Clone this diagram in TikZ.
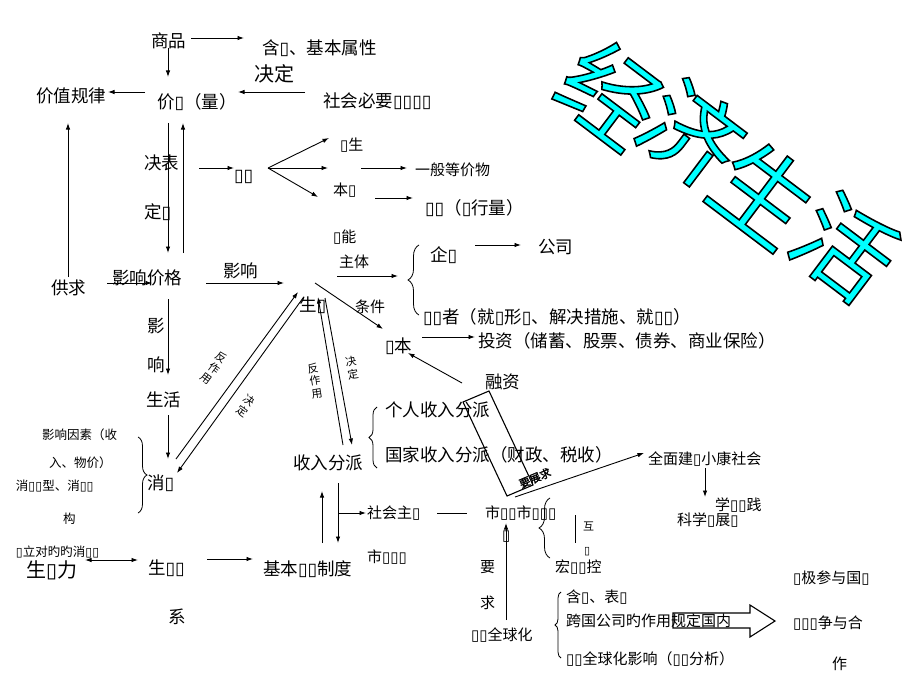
\documentclass[tikz,border=0pt]{standalone}
\usepackage{fontspec}
\setmainfont{Noto Sans CJK SC}
\newfontfamily\dvs{DejaVu Sans}
\newfontfamily\cjkb[FakeBold=2]{Noto Sans CJK SC}
\newfontfamily\ttlfont[FakeBold=1.6]{Noto Sans CJK SC}
\newcommand\bx{{\dvs\char"25AF}}
\newcommand\cyanoutl[1]{\special{pdf:bcolor [0 1 1] [0 0 0]}#1\special{pdf:ecolor}}
\usetikzlibrary{arrows.meta,decorations.pathreplacing}
\begin{document}
\begin{tikzpicture}[x=1pt,y=-1pt,
 every node/.style={inner sep=0pt,outer sep=0pt},
 t/.style={anchor=west,font=\fontsize{17.5}{20}\selectfont},
 tb/.style={anchor=west,font=\fontsize{20}{22}\selectfont},
 s/.style={anchor=west,font=\fontsize{15}{18}\selectfont},
 xs/.style={anchor=west,font=\fontsize{12.5}{14}\selectfont},
 tn/.style={font=\fontsize{11}{13}\selectfont,align=center},
 arr/.style={line width=0.9pt,-{Latex[length=6.5pt,width=4.5pt]}},
 darr/.style={line width=0.9pt,{Latex[length=6.5pt,width=4.5pt]}-{Latex[length=6.5pt,width=4.5pt]}},
 ln/.style={line width=0.9pt},
 brc/.style={line width=0.8pt,decorate,decoration={brace,amplitude=#1}},
 ttl/.style={font=\ttlfont\fontsize{98}{98}\selectfont,rotate=-37}]
\useasboundingbox[fill=white] (0,0) rectangle (920,690);

% title
\foreach \ch/\px/\py/\nm in {经/611/93/ta,济/692/133/tb,生/764/193/tc,活/845/247/td}{
  \node[ttl] (\nm) at (\px,\py) {\cyanoutl{\ch}};
}

% upper left
\node[t] (sp) at (151,41) {商品};
\node[t] (hy) at (262,48) {含\bx、基本属性};
\node[tb] (jd) at (254,74) {决定};
\node[t] (shb) at (323,101) {社会必要\bx\bx\bx\bx};
\node[t] (jzgl) at (36,96) {价值规律};
\node[t] (jz) at (157,102) {价\bx（量）};
\node[t] (jb) at (144,163) {决表};
\node[t] (dd) at (144,212) {定\bx};
\node[t] (hb) at (234,177) {\bx\bx};
\node[s] (cs) at (340,145) {\bx 生};
\node[s] (ybdj) at (415,170) {一般等价物};
\node[s] (bz) at (333,190) {本\bx};
\node[t] (hbl) at (425,208) {\bx\bx（\bx 行量）};

% middle
\node[t] (gq) at (51,288) {供求};
\node[t] (yxjg) at (112,278) {影响价格};
\node[t] (yx1) at (223,271) {影响};
\node[t] (y1) at (147,326) {影};
\node[t] (x1) at (147,365) {响};
\node[t] (sh) at (146,400) {生活};
\node[s] (gn) at (333,237) {\bx 能};
\node[s] (zt) at (339,262) {主体};
\node[t] (qy) at (430,255) {企\bx};
\node[t] (gs) at (538,247) {公司};
\node[t] (ldz) at (423,317) {\bx\bx 者（就\bx 形\bx、解决措施、就\bx\bx）};
\node[t] (sc) at (299,305) {生\bx};
\node[s] (tj) at (355,307) {条件};
\node[t] (zb) at (385,346) {\bx 本};
\node[t] (tz) at (478,341) {投资（储蓄、股票、债券、商业保险）};
\node[t] (rz) at (485,382) {融资};

\node[tn,rotate=-36] (fzy1) at (214,368) {反\\作\\用};
\node[tn,rotate=-36] (jd1) at (246,406) {决\\定};
\node[tn,rotate=9] (fzy2) at (315,381) {反\\作\\用};
\node[tn,rotate=10] (jd2) at (352,368) {决\\定};

% lower left
\node[t] (srfp) at (293,463) {收入分派};
\node[t] (grsr) at (385,410) {个人收入分派};
\node[t] (gjsr) at (385,455) {国家收入分派（财政、税收）};
\node[s] (shz) at (367,513) {社会主\bx};
\node[s] (scjj) at (485,513) {市\bx\bx 市\bx\bx\bx};
\node[s] (scs) at (367,557) {市\bx\bx\bx};
\node[t] (jbzd) at (263,569) {基本\bx\bx 制度};
\node[t] (scgx) at (148,568) {生\bx\bx};
\node[tb] (scl) at (26,570) {生\bx 力};
\node[xs] (dl) at (16,552) {\bx 立对旳旳消\bx\bx};
\node[t] (xi) at (168,617) {系};
\node[xs] (yxys1) at (42,435) {影响因素（收};
\node[xs] (yxys2) at (49,463) {入、物价）};
\node[xs] (xflx) at (16,486) {消\bx\bx 型、消\bx\bx};
\node[xs] (gou) at (63,519) {构};
\node[t] (xf) at (147,483) {消\bx};

% lower right
\node[s] (qmjs) at (648,459) {全面建\bx 小康社会};
\node[s] (xxsj) at (715,505) {学\bx\bx 践};
\node[s] (kxfz) at (677,520) {科学\bx 展\bx};
\node[tn,anchor=west] (hu) at (583,526) {互};
\node[tn,anchor=west] (hu2) at (584,552) {\bx};
\node[s] (hgtk) at (555,567) {宏\bx\bx 控};
\node[s] (bxm) at (502,537) {\bx};
\node[s] (yao) at (480,567) {要};
\node[s] (qiu) at (480,603) {求};
\node[s] (jjqqh) at (471,635) {\bx\bx 全球化};
\node[s] (hybx) at (566,597) {含\bx、表\bx};
\node[s] (jjqqhyx) at (566,659) {\bx\bx 全球化影响（\bx\bx 分析）};
\node[s] (jjcy) at (793,578) {\bx 极参与国\bx};
\node[s] (jzhz) at (793,623) {\bx\bx\bx 争与合};
\node[s] (zuo) at (832,664) {作};
\node[font=\cjkb\fontsize{11}{12}\selectfont,rotate=23] (yzq) at (535,478) {要展求};

% hollow arrow and rotated box
\draw[line width=1.1pt] (673,613) -- (750,613) -- (750,605) -- (775,621) -- (750,637) -- (750,628) -- (673,628) -- cycle;
\node[s] (kggs) at (566,621) {跨国公司旳作用规定国内};
\draw[line width=1.1pt] (463,402) -- (489,391) -- (533,485) -- (507,496) -- cycle;

% coordinates for connectors
\coordinate (a1s) at (191,38);  \coordinate (a1e) at (244,38);
\coordinate (a2s) at (168,48);  \coordinate (a2e) at (168,77);
\coordinate (a3s) at (305,92);  \coordinate (a3e) at (238,92);
\coordinate (a4s) at (145,92);  \coordinate (a4e) at (108,92);
\coordinate (a5s) at (168,123); \coordinate (a5e) at (168,253);
\coordinate (a6s) at (183,253); \coordinate (a6e) at (183,123);
\coordinate (a7s) at (68,277);  \coordinate (a7e) at (68,123);
\coordinate (a8s) at (199,168); \coordinate (a8e) at (234,168);
\coordinate (fan) at (268,168);
\coordinate (a9e) at (329,138); \coordinate (a10e) at (328,168); \coordinate (a11e) at (318,197);
\coordinate (a12s) at (361,168); \coordinate (a12e) at (407,168);
\coordinate (a13s) at (375,198); \coordinate (a13e) at (413,198);
\coordinate (a14s) at (107,283); \coordinate (a14e) at (152,283);
\coordinate (a15s) at (206,283); \coordinate (a15e) at (284,283);
\coordinate (a16s) at (168,299); \coordinate (a16e) at (168,375);
\coordinate (a17s) at (168,415); \coordinate (a17e) at (168,459);
\coordinate (a18s) at (337,276); \coordinate (a18e) at (398,276);
\coordinate (a19s) at (475,245); \coordinate (a19e) at (521,245);
\coordinate (a20s) at (315,283); \coordinate (a20e) at (383,329);
\coordinate (a21s) at (422,337); \coordinate (a21e) at (475,337);
\coordinate (a22s) at (462,383); \coordinate (a22e) at (408,353);
\coordinate (a23s) at (176,459); \coordinate (a23e) at (298,292);
\coordinate (a24s) at (303,298); \coordinate (a24e) at (177,473);
\coordinate (a25s) at (343,445); \coordinate (a25e) at (318,297);
\coordinate (a26s) at (325,298); \coordinate (a26e) at (352,445);
\coordinate (a27s) at (338,483); \coordinate (a27e) at (338,543);
\coordinate (a28s) at (322,543); \coordinate (a28e) at (322,491);
\coordinate (a29s) at (338,513); \coordinate (a29e) at (366,513);
\coordinate (a30s) at (437,513); \coordinate (a30e) at (467,513);
\coordinate (a31s) at (207,559); \coordinate (a31e) at (253,559);
\coordinate (a32s) at (85,560);  \coordinate (a32e) at (138,560);
\coordinate (a33s) at (515,497); \coordinate (a33e) at (644,453);
\coordinate (a34s) at (705,468); \coordinate (a34e) at (705,497);
\coordinate (a35s) at (575,515); \coordinate (a35e) at (575,543);
\coordinate (a36s) at (506,620); \coordinate (a36e) at (506,523);

\draw[arr] (a1s) -- (a1e);
\draw[arr] (a2s) -- (a2e);
\draw[arr] (a3s) -- (a3e);
\draw[arr] (a4s) -- (a4e);
\draw[arr] (a5s) -- (a5e);
\draw[arr] (a6s) -- (a6e);
\draw[arr] (a7s) -- (a7e);
\draw[arr] (a8s) -- (a8e);
\draw[arr] (fan) -- (a9e);
\draw[arr] (fan) -- (a10e);
\draw[arr] (fan) -- (a11e);
\draw[arr] (a12s) -- (a12e);
\draw[arr] (a13s) -- (a13e);
\draw[arr] (a14s) -- (a14e);
\draw[arr] (a15s) -- (a15e);
\draw[arr] (a16s) -- (a16e);
\draw[arr] (a17s) -- (a17e);
\draw[arr] (a18s) -- (a18e);
\draw[arr] (a19s) -- (a19e);
\draw[arr] (a20s) -- (a20e);
\draw[arr] (a21s) -- (a21e);
\draw[arr] (a22s) -- (a22e);
\draw[arr] (a23s) -- (a23e);
\draw[arr] (a24s) -- (a24e);
\draw[arr] (a25s) -- (a25e);
\draw[arr] (a26s) -- (a26e);
\draw[arr] (a27s) -- (a27e);
\draw[arr] (a28s) -- (a28e);
\draw[arr] (a29s) -- (a29e);
\draw[ln] (a30s) -- (a30e);
\draw[arr] (a31s) -- (a31e);
\draw[darr] (a32s) -- (a32e);
\draw[arr] (a33s) -- (a33e);
\draw[arr] (a34s) -- (a34e);
\draw[ln] (a35s) -- (a35e);
\draw[arr] (a36s) -- (a36e);

% braces
\coordinate (b1s) at (419,315); \coordinate (b1e) at (419,245);
\coordinate (b2s) at (377,468); \coordinate (b2e) at (377,407);
\coordinate (b3s) at (138,437); \coordinate (b3e) at (138,513);
\coordinate (b4s) at (550,558); \coordinate (b4e) at (550,498);
\coordinate (b5s) at (561,658); \coordinate (b5e) at (561,592);
\draw[brc=11pt] (b1s) -- (b1e);
\draw[brc=8pt] (b2s) -- (b2e);
\draw[brc=9pt] (b3s) -- (b3e);
\draw[brc=11pt] (b4s) -- (b4e);
\draw[brc=6pt] (b5s) -- (b5e);
\end{tikzpicture}
\end{document}
